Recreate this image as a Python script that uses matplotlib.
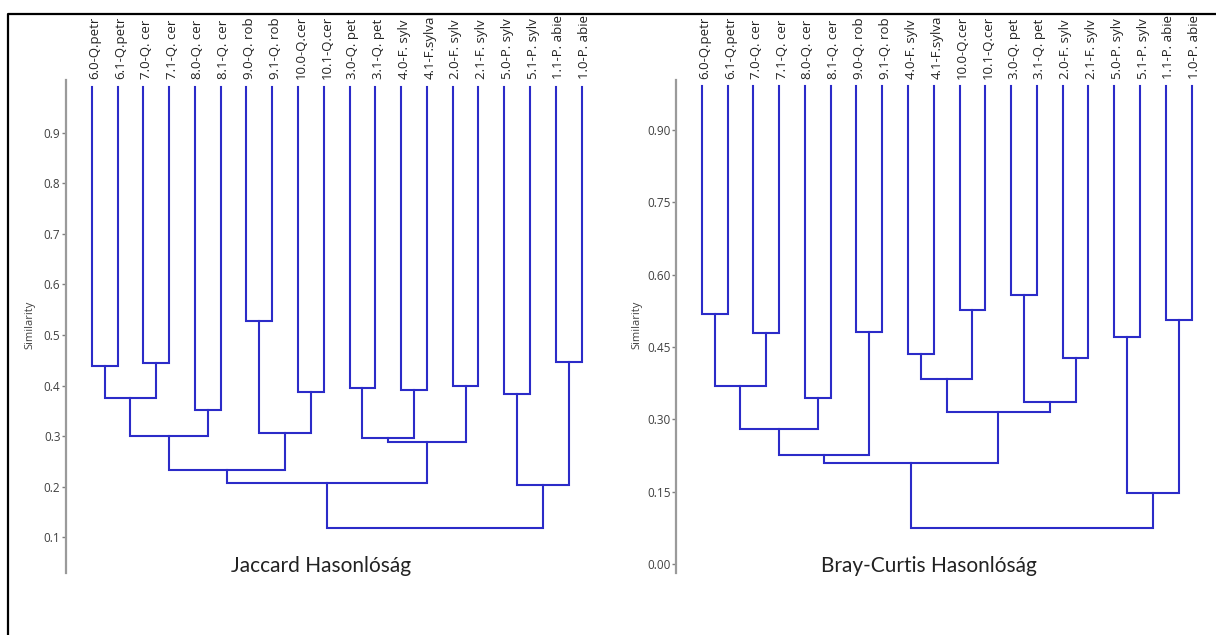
import matplotlib
matplotlib.use("Agg")
import matplotlib.pyplot as plt
from matplotlib.lines import Line2D
from matplotlib.transforms import Bbox, TransformedBbox, blended_transform_factory

# leaf labels (as they show up, cut off at the top)
jac_labels = ["6.0-Q.petr", "6.1-Q.petr", "7.0-Q. cer", "7.1-Q. cer", "8.0-Q. cer",
              "8.1-Q. cer", "9.0-Q. rob", "9.1-Q. rob", "10.0-Q.cer", "10.1-Q.cer",
              "3.0-Q. pet", "3.1-Q. pet", "4.0-F. sylv", "4.1-F.sylva", "2.0-F. sylv",
              "2.1-F. sylv", "5.0-P. sylv", "5.1-P. sylv", "1.1-P. abie", "1.0-P. abie"]
bc_labels = ["6.0-Q.petr", "6.1-Q.petr", "7.0-Q. cer", "7.1-Q. cer", "8.0-Q. cer",
             "8.1-Q. cer", "9.0-Q. rob", "9.1-Q. rob", "4.0-F. sylv", "4.1-F.sylva",
             "10.0-Q.cer", "10.1-Q.cer", "3.0-Q. pet", "3.1-Q. pet", "2.0-F. sylv",
             "2.1-F. sylv", "5.0-P. sylv", "5.1-P. sylv", "1.1-P. abie", "1.0-P. abie"]

# merges: node ids 0-19 are leaves, merge k gets id 20+k
jac_left = [0, 2, 20, 4, 22, 6, 8, 25, 24, 10, 12, 29, 14, 31, 28, 16, 18, 35, 34]
jac_right = [1, 3, 21, 5, 23, 7, 9, 26, 27, 11, 13, 30, 15, 32, 33, 17, 19, 36, 37]
jac_height = [0.438, 0.444, 0.376, 0.352, 0.300, 0.527, 0.388, 0.307, 0.233, 0.396,
              0.391, 0.296, 0.399, 0.289, 0.208, 0.383, 0.447, 0.203, 0.118]

bc_left = [0, 2, 20, 4, 22, 6, 24, 8, 10, 27, 12, 14, 30, 29, 26, 16, 18, 35, 34]
bc_right = [1, 3, 21, 5, 23, 7, 25, 9, 11, 28, 13, 15, 31, 32, 33, 17, 19, 36, 37]
bc_height = [0.518, 0.479, 0.370, 0.345, 0.279, 0.480, 0.226, 0.435, 0.527, 0.384,
             0.558, 0.426, 0.336, 0.316, 0.209, 0.471, 0.505, 0.147, 0.074]

jac_ticks = [0.1, 0.2, 0.3, 0.4, 0.5, 0.6, 0.7, 0.8, 0.9]
bc_ticks = [0.0, 0.15, 0.30, 0.45, 0.60, 0.75, 0.90]

leaf_top = 0.99
blue = "#2b2bc8"
W, H = 1216, 635

fig = plt.figure(figsize=(W / 100, H / 100), dpi=100)
clip = TransformedBbox(Bbox([[0, 0], [1, (H - 15) / H]]), fig.transFigure)


def draw_tree(ax, labels, left, right, height):
    n = len(labels)
    xpos = list(range(n))
    ypos = [leaf_top] * n
    for a, b, h in zip(left, right, height):
        ax.plot([xpos[a], xpos[a], xpos[b], xpos[b]], [ypos[a], h, h, ypos[b]],
                color=blue, lw=1.5, solid_joinstyle="miter")
        xpos.append((xpos[a] + xpos[b]) / 2)
        ypos.append(h)
    trans = blended_transform_factory(ax.transData, ax.transAxes)
    for i, lab in enumerate(labels):
        t = ax.text(i + 0.12, 1.002, lab, rotation=90, ha="center", va="bottom",
                    fontsize=9.5, family="Open Sans", color="#222222",
                    transform=trans, clip_on=True)
        t.set_clip_box(clip)


def style_axis(ax, ylim, ticks, fmt):
    ax.set_xlim(-1, 19.6)
    ax.set_ylim(*ylim)
    for s in ["top", "right", "bottom"]:
        ax.spines[s].set_visible(False)
    ax.spines["left"].set_color("#9a9a9a")
    ax.spines["left"].set_linewidth(1.6)
    ax.set_xticks([])
    ax.set_yticks(ticks)
    ax.set_yticklabels([fmt % t for t in ticks], family="Open Sans", fontsize=8.5,
                       color="#404040")
    ax.tick_params(axis="y", length=3, width=1, color="#808080", pad=1)


ax1 = fig.add_axes([66 / W, (H - 572.8) / H, 531 / W, 492.8 / H])
draw_tree(ax1, jac_labels, jac_left, jac_right, jac_height)
style_axis(ax1, (0.030, 1.004), jac_ticks, "%.1f")

ax2 = fig.add_axes([676 / W, (H - 572.8) / H, 531 / W, 492.8 / H])
draw_tree(ax2, bc_labels, bc_left, bc_right, bc_height)
style_axis(ax2, (-0.018, 1.003), bc_ticks, "%.2f")

# axis names and titles
fig.text(30 / W, (H - 325) / H, "Similarity", rotation=90, ha="center", va="center",
         fontsize=8, family="Open Sans", color="#404040")
fig.text(637 / W, (H - 325) / H, "Similarity", rotation=90, ha="center", va="center",
         fontsize=8, family="Open Sans", color="#404040")
fig.text(321 / W, (H - 566) / H, "Jaccard Hasonlóság", ha="center", va="center",
         fontsize=15, family="Lato", color="#222222")
fig.text(929 / W, (H - 566) / H, "Bray-Curtis Hasonlóság", ha="center", va="center",
         fontsize=15, family="Lato", color="#222222")

# outer frame (only top and left edges visible)
fig.add_artist(Line2D([8 / W, 8 / W, 1], [0, (H - 14) / H, (H - 14) / H],
                      transform=fig.transFigure, color="black", lw=1.6))

fig.savefig("out.png", dpi=100)
